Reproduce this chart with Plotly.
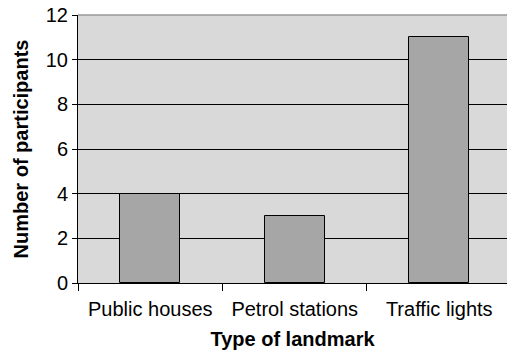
import plotly.graph_objects as go

# Landmark types and the number of participants naming each
landmarks = ["Public houses", "Petrol stations", "Traffic lights"]
participants = [4, 3, 11]
y_ticks = [0, 2, 4, 6, 8, 10, 12]

FONT = "Liberation Sans, Arial, Helvetica, sans-serif"

fig = go.Figure(
    go.Bar(
        x=landmarks,
        y=participants,
        width=0.415,
        marker=dict(color="#a6a6a6", line=dict(color="#000000", width=1)),
        hoverinfo="x+y",
    )
)

fig.update_layout(
    width=507,
    height=351,
    margin=dict(l=78, r=0, t=15, b=68),
    paper_bgcolor="#ffffff",
    plot_bgcolor="#d9d9d9",
    font=dict(family=FONT, size=20, color="#000000"),
    showlegend=False,
    bargap=0,
)

fig.update_xaxes(
    range=[-0.5, 2.469],
    showgrid=False,
    showline=True,
    linecolor="#000000",
    linewidth=1,
    ticks="outside",
    tickson="boundaries",
    ticklen=7,
    tickcolor="#000000",
    tickwidth=1,
    ticklabelstandoff=8,
    tickfont=dict(family=FONT, size=20),
    title=dict(text="<b>Type of landmark</b>", font=dict(family=FONT, size=20), standoff=12),
)

fig.update_yaxes(
    range=[0, 12],
    tickvals=y_ticks,
    showgrid=True,
    gridcolor="#000000",
    gridwidth=1,
    zeroline=False,
    showline=True,
    linecolor="#000000",
    linewidth=1,
    ticks="outside",
    ticklen=5,
    tickcolor="#000000",
    tickwidth=1,
    tickfont=dict(family=FONT, size=20),
    title=dict(text="<b>Number of participants</b>", font=dict(family=FONT, size=20), standoff=11),
)

# grey frame edge along the top of the plotting area
fig.add_shape(
    type="line", xref="paper", yref="paper",
    x0=0, x1=1, y0=1, y1=1,
    line=dict(color="#999999", width=1.5),
    layer="above",
)

fig.write_html("out.html")
